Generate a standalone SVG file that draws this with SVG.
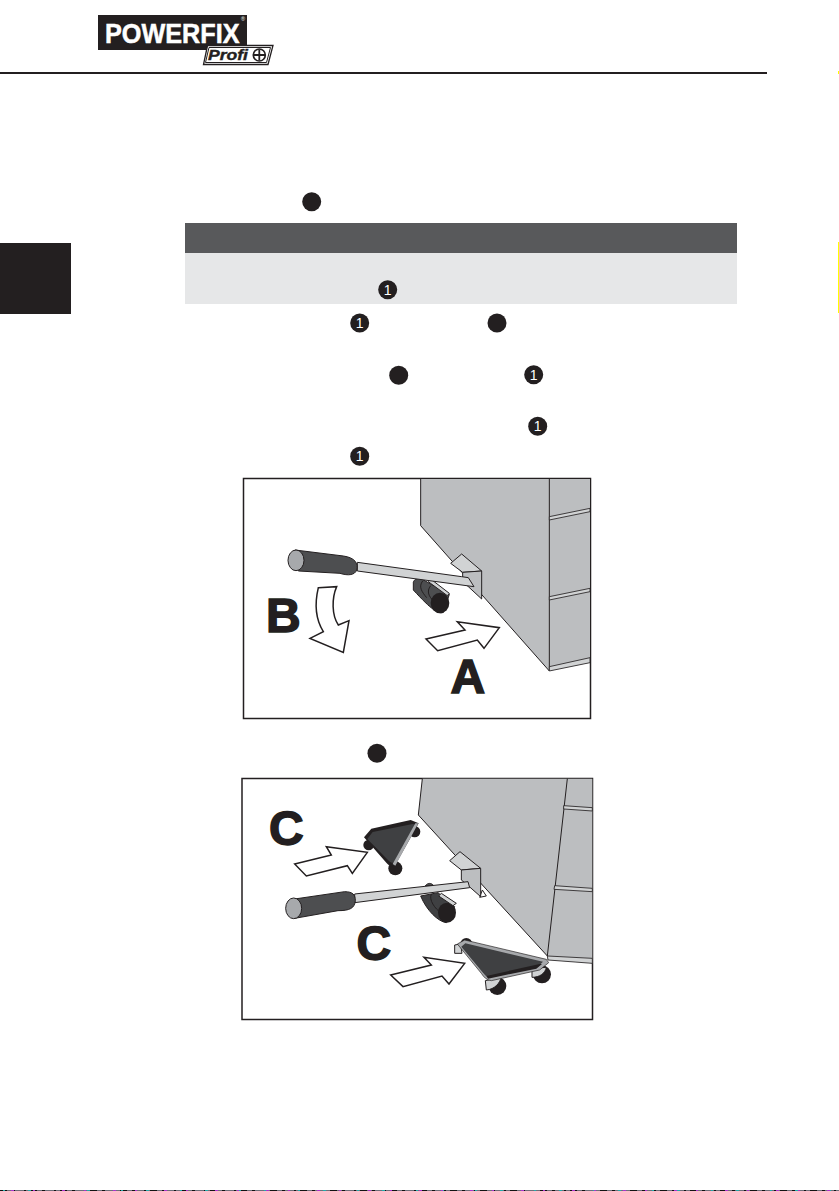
<svg xmlns="http://www.w3.org/2000/svg" width="839" height="1191" viewBox="0 0 839 1191">
<style>
.k{fill:#231f20}
.o{stroke:#231f20;stroke-width:3;stroke-linejoin:round}
.a{fill:#fff;stroke:#231f20;stroke-width:4.500;stroke-linejoin:miter}
.cab{fill:#bcbec0}
.pale{fill:#d1d3d4}
.dark{fill:#4d4e50}
.lbl{font-family:"Liberation Sans",Arial,sans-serif;font-weight:700;font-size:48px;fill:#231f20;stroke:#231f20;stroke-width:1.500}
.n{font-family:"Liberation Sans",Arial,sans-serif;font-size:14px;fill:#fff;text-anchor:middle}
.frame{fill:#fff;stroke:#231f20;stroke-width:1.500}
.thin{fill:none;stroke:#231f20;stroke-width:3}
</style>
<defs>
<g id="dot"><circle r="9.500" class="k"/></g>
</defs>
<rect width="839" height="1191" fill="#fff"/>

<g id="logo">
<rect x="98" y="15" width="149" height="35" class="k"/>
<text x="105" y="42.500" font-family="'Liberation Sans',sans-serif" font-weight="700" font-size="27.500" fill="#fff" stroke="#fff" stroke-width=".5" textLength="134.500" lengthAdjust="spacingAndGlyphs">POWERFIX</text>
<text x="241" y="21" font-family="'Liberation Sans',sans-serif" font-size="5.500" fill="#fff">®</text>
<path d="M207.500 45.500H273L268 64.500H203.500Z" fill="#fff" stroke="#231f20" stroke-width="1.300"/>
<path d="M209 47.500H270.500L266.500 62.500H205.500Z" fill="#fff" stroke="#231f20" stroke-width="1"/>
<text x="208" y="60.300" font-family="'Liberation Sans',sans-serif" font-weight="700" font-style="italic" font-size="15.500" fill="#231f20" stroke="#231f20" stroke-width=".4" textLength="40" lengthAdjust="spacingAndGlyphs">Profi</text>
<circle cx="259.300" cy="55" r="6" fill="none" stroke="#231f20" stroke-width="1.700"/>
<path d="M253.500 55H265M259.300 49.500V60.500" stroke="#231f20" stroke-width="1.800" fill="none"/>
</g>

<rect id="header-rule" x="0" y="72" width="767" height="2" class="k"/>
<rect id="tab" x="0" y="243" width="71" height="71" class="k"/>
<rect id="edge-mark-1" x="838" y="71" width="1" height="3" fill="#ffff00"/>
<rect id="edge-mark-2" x="838" y="242" width="1" height="71" fill="#ffff00"/>

<g id="warning-box">
<rect x="185" y="223" width="552" height="30" fill="#58595b"/>
<rect x="185" y="253" width="552" height="51" fill="#e6e7e8"/>
</g>

<g id="markers">
<use href="#dot" x="311.700" y="201.700"/>
<use href="#dot" x="497" y="323"/>
<use href="#dot" x="398.700" y="375.300"/>
<use href="#dot" x="377" y="753.300"/>
<g id="m1"><use href="#dot" x="387.700" y="289.700"/><text class="n" x="387.700" y="294.700">1</text></g>
<g id="m2"><use href="#dot" x="359.700" y="323"/><text class="n" x="359.700" y="328">1</text></g>
<g id="m3"><use href="#dot" x="533.700" y="374.700"/><text class="n" x="533.700" y="379.700">1</text></g>
<g id="m4"><use href="#dot" x="537.700" y="426.300"/><text class="n" x="537.700" y="431.300">1</text></g>
<g id="m5"><use href="#dot" x="359.700" y="456.300"/><text class="n" x="359.700" y="461.300">1</text></g>
</g>

<g id="figure-1">
<rect x="243.500" y="478.500" width="347" height="240" class="frame"/>
<g transform="translate(240 475) scale(.33333)">
<path d="M542 12H1050V563L928 588L542 152Z" class="cab"/>
<path d="M542 12V152L928 588V12" class="thin"/>
<path d="M928 125L1050 100V110L928 135Z" class="pale" style="stroke:#231f20;stroke-width:2.500"/>
<path d="M928 365L1050 340V350L928 375ZM928 575L1050 548V563L928 588Z" class="pale" style="stroke:#231f20;stroke-width:2.500"/>
<path d="M520 322C522 312 535 308 545 312L628 358L610 412C595 418 575 405 520 345Z" class="dark o"/>
<path d="M548 318C535 335 545 350 560 368M572 332C558 350 568 365 580 378" fill="none" stroke="#231f20" stroke-width="3"/>
<ellipse cx="600" cy="384" rx="28" ry="31" class="k"/>
<path d="M572 312L628 355L622 362L565 320Z" class="pale o"/>
<path d="M632 265L665 237L725 288L668 292Z" class="pale o"/>
<path d="M668 292L725 288V372L685 335L668 320Z" class="cab o"/>
<path d="M352 262L665 305L685 308L702 335L352 288Z" class="pale o"/>
<path d="M165 225L310 243C345 248 355 265 350 285C345 300 325 303 300 295L175 288Z" class="dark o"/>
<ellipse cx="168" cy="256" rx="24" ry="31" fill="#a7a9ac" stroke="#231f20" stroke-width="3"/>
<path d="M558 492L675 465L652 440L778 458L732 520L712 495L593 527Z" class="a"/>
<path d="M235 338L290 335C275 370 275 420 295 450L327 437L310 532L210 490L250 470C225 430 225 380 235 338Z" class="a"/>
</g>
<text class="lbl" x="266" y="632">B</text>
<text class="lbl" x="450.500" y="693">A</text>
</g>

<g id="figure-2">
<rect x="242" y="778.500" width="350.500" height="241" class="frame"/>
<g transform="translate(238 740) scale(.33333)">
<path d="M553 116H1063V670L928 660L928 648L541 225Z" class="cab"/>
<path d="M553 116L541 225L928 648L988 116" class="thin"/>
<path d="M977 197L1063 203V213L977 207Z" class="pale" style="stroke:#231f20;stroke-width:2.500"/>
<path d="M950 437L1063 445V455L948 448Z" class="pale" style="stroke:#231f20;stroke-width:2.500"/>
<path d="M928 648L1063 655V670L930 660Z" class="pale" style="stroke:#231f20;stroke-width:2.500"/>
<circle cx="530" cy="275" r="17" class="k"/>
<circle cx="392" cy="315" r="16" class="k"/>
<circle cx="472" cy="385" r="21" class="k"/>
<path d="M378 292L400 266L518 240L542 250L470 378C460 382 450 375 445 368Z" class="k"/>
<path d="M388 297L404 276L524 252L534 254L470 366C465 370 458 368 452 362Z" fill="#3f4042"/>
<path d="M532 250L541 250L472 377L464 372Z" fill="#a7a9ac"/>
<path d="M170 372L280 345L265 320L388 337L343 400L328 377L205 408Z" class="a"/>
<path d="M548 468L600 458L650 500L625 548C600 545 565 510 548 468Z" fill="#3f4042" class="o"/>
<path d="M580 462C572 480 590 505 610 520" fill="none" stroke="#231f20" stroke-width="3"/>
<ellipse cx="627" cy="518" rx="27" ry="30" class="k"/>
<path d="M610 460L655 490L645 497L602 468Z" class="pale o"/>
<path d="M562 438C568 428 580 428 586 436Z" class="dark o"/>
<path d="M725 472L745 468L733 450Z" fill="#fff" class="o"/>
<path d="M635 362L666 335L728 385L670 390Z" class="pale o"/>
<path d="M670 390L728 385V470L694 440L670 420Z" class="cab o"/>
<path d="M350 462L690 425L695 443L350 488Z" class="pale o"/>
<path d="M170 477L320 455C345 455 352 465 352 482C350 505 335 512 300 512L170 535Z" class="dark o"/>
<ellipse cx="167" cy="505" rx="24" ry="31" fill="#a7a9ac" stroke="#231f20" stroke-width="3"/>
<circle cx="685" cy="612" r="18" class="k"/>
<path d="M650 615L668 612L672 640L650 640Z" class="pale o"/>
<circle cx="778" cy="738" r="27" class="k"/>
<circle cx="912" cy="703" r="27" class="k"/>
<path d="M742 722L790 712C785 730 770 748 745 750Z" class="pale o"/>
<path d="M882 685L925 682C922 700 905 712 882 712Z" class="pale o"/>
<path d="M658 612L680 600L925 658L932 668L905 690L760 722C745 720 738 712 730 700Z" fill="#a7a9ac" stroke="#231f20" stroke-width="2"/>
<path d="M670 620L682 610L915 665L900 680L755 712C745 710 740 705 735 698Z" fill="#3f4042"/>
<path d="M905 672L912 672L895 686L750 716L745 708Z" class="k"/>
<path d="M458 705L580 675L558 652L680 670L633 732L612 708L495 740Z" class="a"/>
</g>
<text class="lbl" x="269" y="845">C</text>
<text class="lbl" x="356.500" y="960">C</text>
</g>

<g id="bottom-edge">
<rect x="0" y="1190" width="839" height="1" fill="#6e6e7a"/>
<path d="M0 1190.500H839" stroke="#111" stroke-dasharray="7 5 3 9 2 4" fill="none"/>
<path d="M3 1190.500H839" stroke="#2aa" stroke-dasharray="2 23 3 31" fill="none"/>
<path d="M11 1190.500H839" stroke="#a3c" stroke-dasharray="3 19 2 27" fill="none"/>
</g>
</svg>
